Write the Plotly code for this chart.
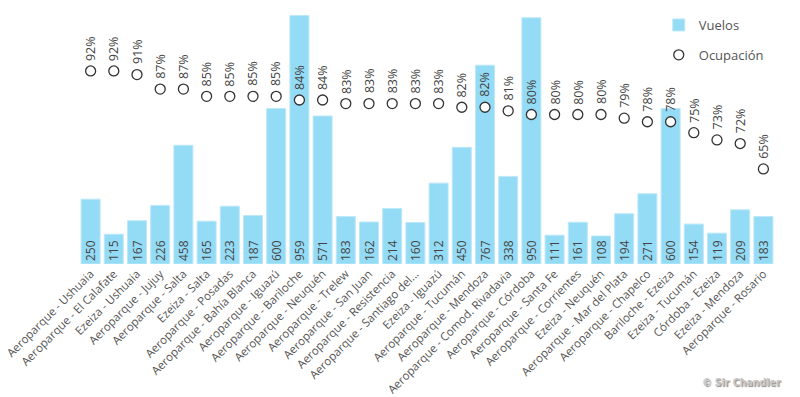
import plotly.graph_objects as go

routes = [
    "Aeroparque - Ushuaia", "Aeroparque - El Calafate", "Ezeiza - Ushuaia",
    "Aeroparque - Jujuy", "Aeroparque - Salta", "Ezeiza - Salta",
    "Aeroparque - Posadas", "Aeroparque - Bahía Blanca", "Aeroparque - Iguazú",
    "Aeroparque - Bariloche", "Aeroparque - Neuquén", "Aeroparque - Trelew",
    "Aeroparque - San Juan", "Aeroparque - Resistencia", "Aeroparque - Santiago del...",
    "Ezeiza - Iguazú", "Aeroparque - Tucumán", "Aeroparque - Mendoza",
    "Aeroparque - Comod. Rivadavia", "Aeroparque - Córdoba", "Aeroparque - Santa Fe",
    "Aeroparque - Corrientes", "Ezeiza - Neuquén", "Aeroparque - Mar del Plata",
    "Aeroparque - Chapelco", "Bariloche - Ezeiza", "Ezeiza - Tucumán",
    "Córdoba - Ezeiza", "Ezeiza - Mendoza", "Aeroparque - Rosario",
]
vuelos = [250, 115, 167, 226, 458, 165, 223, 187, 600, 959, 571, 183, 162, 214, 160,
          312, 450, 767, 338, 950, 111, 161, 108, 194, 271, 600, 154, 119, 209, 183]
ocupacion = [92, 92, 91, 87, 87, 85, 85, 85, 85, 84, 84, 83, 83, 83, 83,
             83, 82, 82, 81, 80, 80, 80, 80, 79, 78, 78, 75, 73, 72, 65]

FONT = "Open Sans"
TXT = "#444444"

fig = go.Figure()
fig.add_trace(go.Bar(
    x=routes, y=vuelos, name="Vuelos", legendgroup="a",
    marker=dict(color="#94DBF5", line=dict(color="#BDE8F8", width=1)),
    texttemplate="%{y}", textposition="inside", insidetextanchor="start",
    textangle=-90, constraintext="none",
    insidetextfont=dict(family=FONT, size=12, color=TXT),
    hoverinfo="skip",
))
fig.add_trace(go.Scatter(
    x=routes, y=ocupacion, name="Ocupación", legendgroup="b", yaxis="y2",
    mode="markers",
    marker=dict(symbol="circle", size=10, color="white",
                line=dict(color="#333333", width=1.3)),
    hoverinfo="skip",
))

annotations = []
for r, v in zip(routes, ocupacion):
    annotations.append(dict(
        x=r, y=v, xref="x", yref="y2", text=f"{v}%", textangle=-90,
        showarrow=False, yanchor="bottom", xanchor="center", yshift=8,
        font=dict(family=FONT, size=12.5, color=TXT),
    ))
annotations.append(dict(
    x=1.012, y=-0.465, xref="paper", yref="paper", text="© Sir Chandler",
    showarrow=False, xanchor="right", yanchor="middle",
    font=dict(family="Liberation Sans Narrow, DejaVu Sans Condensed, sans-serif",
              size=10.5, color="#c8c8c8", weight="bold", shadow="1px 1px 1px #888"),
))

fig.update_layout(
    width=800, height=397,
    margin=dict(l=79, r=25, t=10, b=133, autoexpand=False),
    paper_bgcolor="white", plot_bgcolor="white",
    bargap=0.18,
    font=dict(family=FONT, size=11, color="#555555"),
    xaxis=dict(tickangle=-45, showgrid=False, showline=False, ticks="",
               tickfont=dict(family=FONT, size=11.5, color="#555555"),
               range=[-0.5, len(routes) - 0.5], automargin=False),
    yaxis=dict(range=[0, 980], visible=False, showgrid=False),
    yaxis2=dict(range=[38.8, 108.8], overlaying="y", visible=False, showgrid=False),
    legend=dict(x=0.833, y=1.0, xanchor="left", yanchor="top",
                bgcolor="rgba(0,0,0,0)", tracegroupgap=10,
                traceorder="grouped",
                font=dict(family=FONT, size=13, color="#555555")),
    annotations=annotations,
    showlegend=True,
)

fig.write_html("out.html", config={"displayModeBar": False},
               post_script="document.body.style.margin='0';")
